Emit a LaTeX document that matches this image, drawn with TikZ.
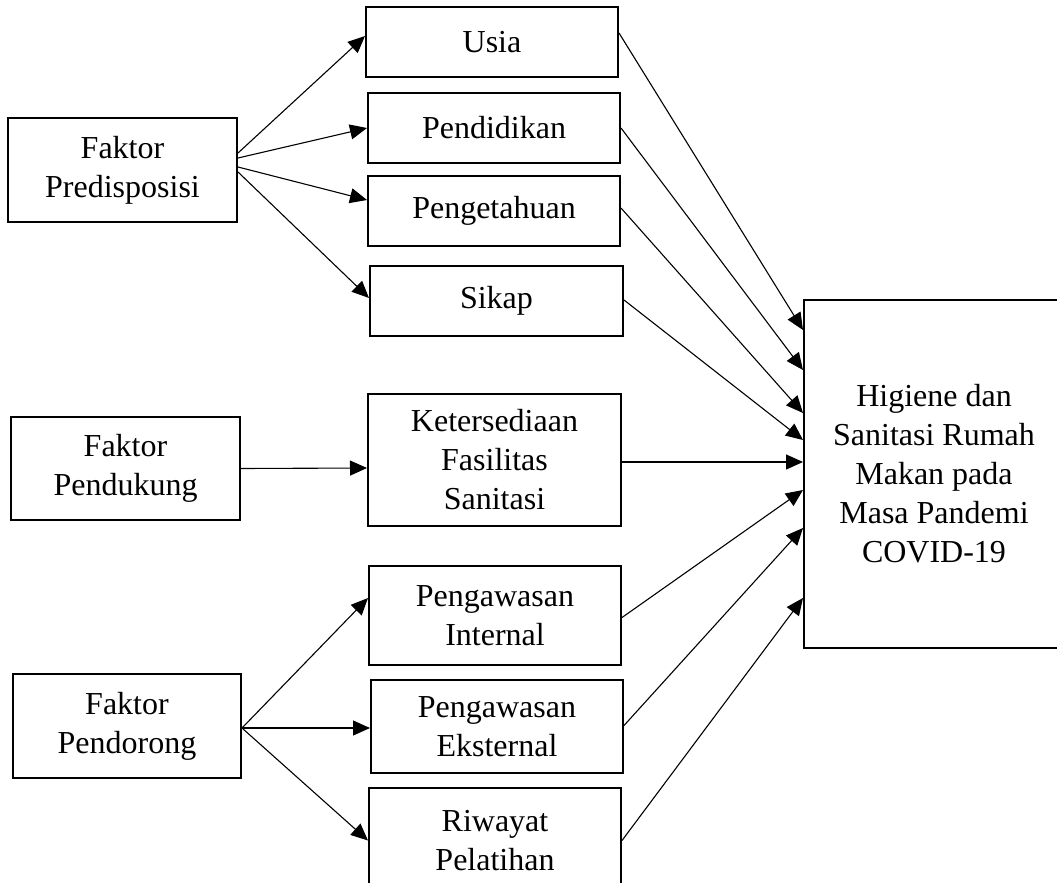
\documentclass[tikz,border=0pt]{standalone}
\usepackage{fontspec}
\setmainfont{Liberation Serif}
\usetikzlibrary{arrows.meta}

\begin{document}
\begin{tikzpicture}[x=1pt,y=-1pt,
  kotak/.style={draw,line width=2pt,align=center,inner sep=0pt,font=\fontsize{32}{39}\selectfont},
  panah/.style={line width=1.1pt,-{Triangle[length=17pt,width=15pt]}}]
  \clip (0,0) rectangle (1057,883);
  \fill[white] (0,0) rectangle (1057,883);
  % faktor di kiri
  \node[kotak,minimum width=229pt,minimum height=104pt] (pred) at (122.5,170) {Faktor\\Predisposisi};
  \node[kotak,minimum width=229pt,minimum height=103pt] (dukung) at (125.5,468.5) {Faktor\\Pendukung};
  \node[kotak,minimum width=228pt,minimum height=104pt] (dorong) at (127,726) {Faktor\\Pendorong};
  % variabel di tengah
  \node[kotak,minimum width=252pt,minimum height=70pt] (usia) at (492,42) {Usia};
  \node[kotak,minimum width=252pt,minimum height=70pt] (pend) at (494,128) {Pendidikan};
  \node[kotak,minimum width=252pt,minimum height=70pt] (penget) at (494,211) {Pengetahuan};
  \node[kotak,minimum width=253pt,minimum height=70pt] (sikap) at (496.5,301) {Sikap};
  \node[kotak,minimum width=253pt,minimum height=132pt] (sedia) at (494.5,460) {Ketersediaan\\Fasilitas\\Sanitasi};
  \node[kotak,minimum width=252pt,minimum height=99pt] (internal) at (495,615.5) {Pengawasan\\Internal};
  \node[kotak,minimum width=252pt,minimum height=93pt] (eksternal) at (497,726.5) {Pengawasan\\Eksternal};
  \node[kotak,minimum width=252pt,minimum height=105pt] (riwayat) at (495,840.5) {Riwayat\\Pelatihan};
  % hasil
  \node[kotak,minimum width=260pt,minimum height=348pt] (higiene) at (934,474)
    {Higiene dan\\Sanitasi Rumah\\Makan pada\\Masa Pandemi\\COVID-19};
  % panah
  \foreach \dst/\up/\dy in {usia/17/6,pend/12/0,penget/3/11,sikap/-2/3}
    \draw[panah] ([yshift=\up]pred.east) -- ([yshift=\dy]\dst.west);
  \draw[panah] (dukung.east) -- ([yshift=-8]sedia.west);
  \foreach \dst/\dy in {internal/17.5,eksternal/-1.5,riwayat/0}
    \draw[panah] ([yshift=-2]dorong.east) -- ([yshift=\dy]\dst.west);
  \foreach \src/\up/\dy in {usia/9/144,pend/0/104,penget/3/61,sikap/1/34,
      sedia/-2/12,internal/-2/-16,eksternal/1/-54,riwayat/0/-124}
    \draw[panah] ([yshift=\up]\src.east) -- ([yshift=\dy]higiene.west);
\end{tikzpicture}
\end{document}
